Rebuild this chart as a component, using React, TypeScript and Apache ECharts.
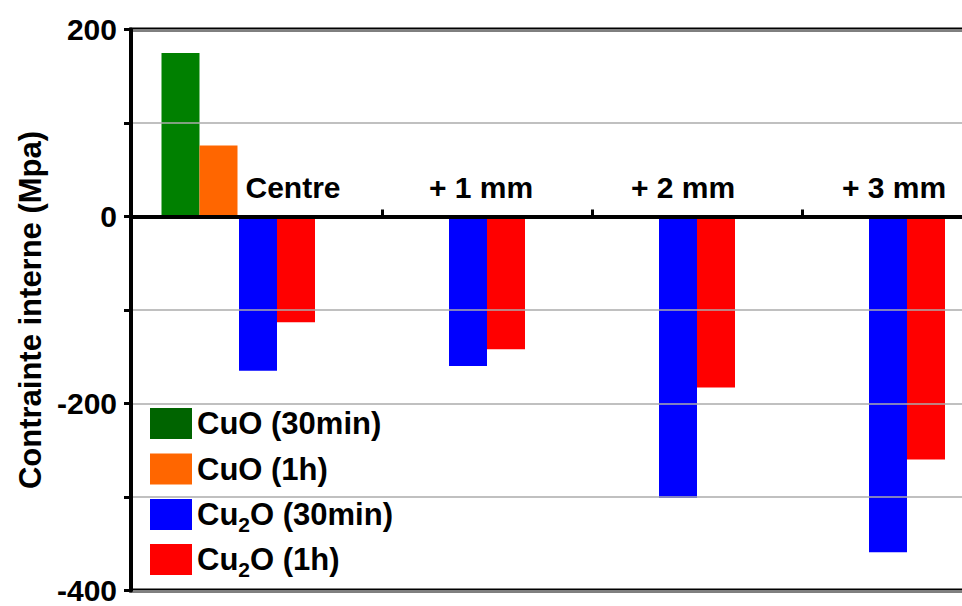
import React, { useEffect, useRef } from 'react';
import * as echarts from 'echarts';

// ---- data ----
const categories = ['Centre', '+ 1 mm', '+ 2 mm', '+ 3 mm'];
const cuo30min = [175, null, null, null];
const cuo1h = [76, null, null, null];
const cu2o30min = [-165, -160, -301, -359];
const cu2o1h = [-113, -142, -183, -260];
const seriesNames = ['CuO (30min)', 'CuO (1h)', 'Cu2O (30min)', 'Cu2O (1h)'];
const labelledTicks = [200, 0, -200, -400];
const yTitle = 'Contrainte interne (Mpa)';

// ---- styling ----
const FONT = '"Liberation Sans", Arial, Helvetica, sans-serif';
const labelShift = [16, -6, -14, -13];
const barColors = ['#008000', '#FF6600', '#0000FF', '#FF0000'];
const legendColors = ['#006400', '#FF6600', '#0000FF', '#FF0000'];
const legendTops = [408, 453.5, 499, 544];

const TOP = 29.5;
const HEIGHT = 561;
const ZERO_OFFSET = -374; // distance from grid bottom up to the zero line

export default function App() {
  const ref = useRef<HTMLDivElement>(null);

  useEffect(() => {
    if (!ref.current) return;
    const chart = echarts.init(ref.current, undefined, { renderer: 'svg' });

    const hiddenY = (gridIndex: number) => ({
      type: 'value',
      gridIndex,
      min: -400,
      max: 200,
      interval: 100,
      show: false,
    });

    const catData = categories.map((c, i) => {
      const s = labelShift[i];
      return {
        value: c,
        textStyle: { padding: s >= 0 ? [0, 0, 0, 2 * s] : [0, -2 * s, 0, 0] },
      };
    });

    const legendFormatter = (name: string) => {
      if (name.startsWith('Cu2O')) {
        return `{n|Cu}{s|2}{n|${name.slice(3)}}`;
      }
      return `{n|${name}}`;
    };

    const legends = seriesNames.map((n, i) => ({
      orient: 'vertical',
      left: 150,
      top: legendTops[i],
      padding: 0,
      itemWidth: 42,
      itemHeight: 31,
      icon: 'rect',
      selectedMode: false,
      data: [{ name: n, itemStyle: { color: legendColors[i] } }],
      formatter: legendFormatter,
      textStyle: {
        color: '#000',
        fontFamily: FONT,
        fontWeight: 'bold',
        fontSize: 31,
        lineHeight: 31,
        rich: {
          n: { color: '#000', fontFamily: FONT, fontWeight: 'bold', fontSize: 31, lineHeight: 31 },
          s: {
            color: '#000',
            fontFamily: FONT,
            fontWeight: 'bold',
            fontSize: 21,
            height: 11,
            lineHeight: 11,
            verticalAlign: 'bottom',
          },
        },
      },
    }));

    const option: any = {
      animation: false,
      backgroundColor: '#ffffff',
      grid: [
        {
          left: 131,
          top: TOP,
          height: HEIGHT,
          width: 1000,
          show: true,
          borderColor: '#000',
          borderWidth: 4,
          backgroundColor: 'transparent',
        },
        { left: 172, top: TOP, height: HEIGHT, width: 840 },
        { left: 94.5, top: TOP, height: HEIGHT, width: 840 },
      ],
      xAxis: [
        {
          type: 'value',
          gridIndex: 0,
          min: 0,
          max: 1,
          z: 5,
          axisLine: { show: true, onZero: true, lineStyle: { color: '#000', width: 4 } },
          axisTick: { show: false },
          axisLabel: { show: false },
          splitLine: { show: false },
        },
        {
          type: 'category',
          gridIndex: 1,
          position: 'bottom',
          offset: ZERO_OFFSET,
          data: catData,
          z: 0,
          axisLine: { show: false, onZero: false },
          axisTick: { show: true, inside: true, length: 7, lineStyle: { color: '#000', width: 3 } },
          axisLabel: {
            inside: true,
            margin: 14,
            color: '#000',
            fontFamily: FONT,
            fontWeight: 'bold',
            fontSize: 30,
          },
          splitLine: { show: false },
        },
        {
          type: 'category',
          gridIndex: 2,
          data: categories,
          show: false,
        },
      ],
      yAxis: [
        {
          type: 'value',
          gridIndex: 0,
          min: -400,
          max: 200,
          interval: 100,
          z: 5,
          name: yTitle,
          nameLocation: 'middle',
          nameRotate: 90,
          nameGap: 84,
          nameTextStyle: {
            color: '#000',
            fontFamily: FONT,
            fontWeight: 'bold',
            fontSize: 31,
          },
          axisLine: { show: true, lineStyle: { color: '#000', width: 4 } },
          axisTick: { show: true, length: 7, lineStyle: { color: '#000', width: 3 } },
          axisLabel: {
            color: '#000',
            fontFamily: FONT,
            fontWeight: 'bold',
            fontSize: 30,
            margin: 14,
            formatter: (v: number) => (labelledTicks.includes(v) ? String(v) : ''),
          },
          splitLine: { show: true, lineStyle: { color: '#ababab', width: 1.5 } },
        },
        hiddenY(1),
        hiddenY(2),
      ],
      legend: legends,
      series: [
        {
          name: seriesNames[0],
          type: 'bar',
          xAxisIndex: 2,
          yAxisIndex: 2,
          data: cuo30min.map((v) => (v === null ? '-' : v)),
          barWidth: 38,
          barGap: '0%',
          itemStyle: { color: barColors[0] },
        },
        {
          name: seriesNames[1],
          type: 'bar',
          xAxisIndex: 2,
          yAxisIndex: 2,
          data: cuo1h.map((v) => (v === null ? '-' : v)),
          barWidth: 38,
          barGap: '0%',
          itemStyle: { color: barColors[1] },
        },
        {
          name: seriesNames[2],
          type: 'bar',
          xAxisIndex: 1,
          yAxisIndex: 1,
          data: cu2o30min,
          barWidth: 38,
          barGap: '0%',
          itemStyle: { color: barColors[2] },
        },
        {
          name: seriesNames[3],
          type: 'bar',
          xAxisIndex: 1,
          yAxisIndex: 1,
          data: cu2o1h,
          barWidth: 38,
          barGap: '0%',
          itemStyle: { color: barColors[3] },
        },
      ],
    };

    chart.setOption(option);
    return () => chart.dispose();
  }, []);

  return (
    <div
      style={{
        position: 'fixed',
        left: 0,
        top: 0,
        width: 962,
        height: 606,
        overflow: 'hidden',
        background: '#fff',
      }}
    >
      <div ref={ref} style={{ width: 1100, height: 606 }} />
    </div>
  );
}
